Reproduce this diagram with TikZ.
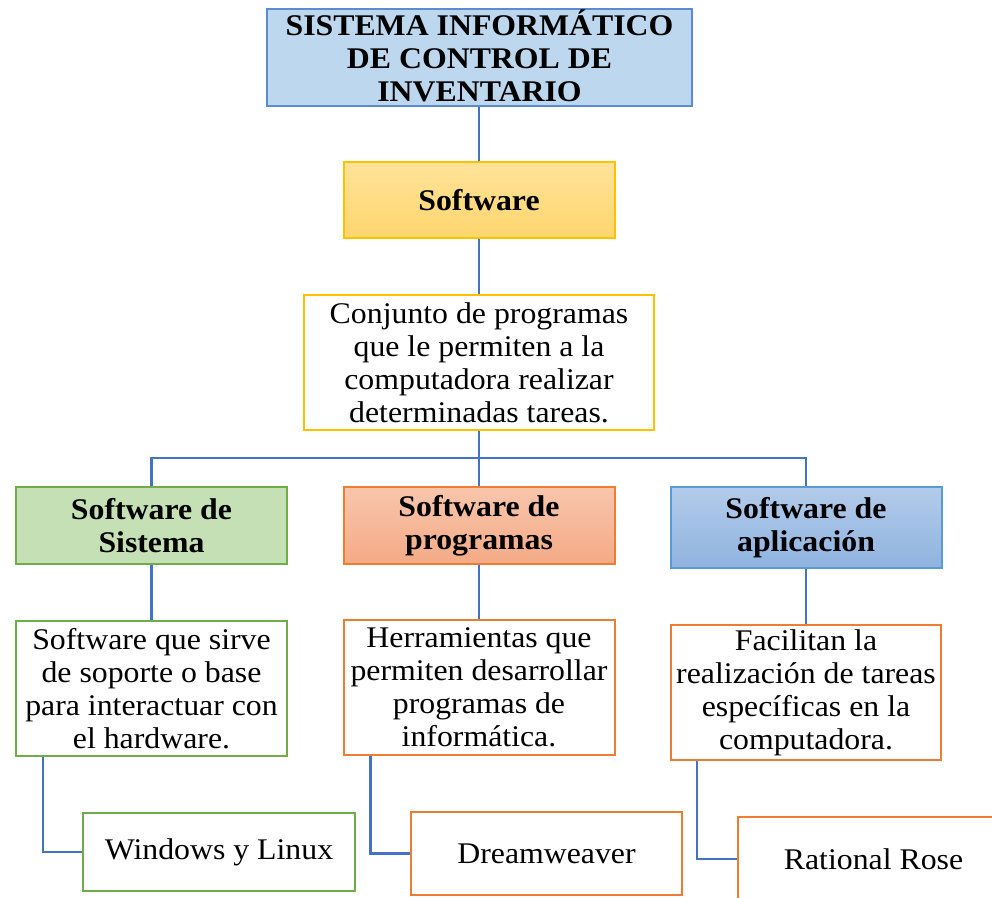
\documentclass[tikz,border=0pt]{standalone}
\usepackage{fontspec}
\setmainfont{Liberation Serif}[FakeStretch=1.06]
\definecolor{linkblue}{HTML}{4472C4}
\definecolor{titlefill}{HTML}{BDD7EE}
\definecolor{titleline}{HTML}{5B8BD0}
\definecolor{goldline}{HTML}{FFC000}
\definecolor{goldtop}{HTML}{FFE39A}
\definecolor{goldbot}{HTML}{FFD66E}
\definecolor{greenfill}{HTML}{C5E0B4}
\definecolor{greenline}{HTML}{70AD47}
\definecolor{orangeline}{HTML}{ED7D31}
\definecolor{orangetop}{HTML}{F8C6AC}
\definecolor{orangebot}{HTML}{F4AA86}
\definecolor{bluetop}{HTML}{B3CBEA}
\definecolor{bluebot}{HTML}{8FB3E0}
\definecolor{blueline}{HTML}{5B9BD5}
\tikzset{
  x=1pt, y=-1pt,
  box/.style={draw, line width=2pt, inner sep=0pt, align=center,
    font=\fontsize{30}{33}\selectfont},
  head/.style={box, font=\fontsize{30}{33}\selectfont\bfseries},
  link/.style={draw=linkblue, line width=2.5pt},
}
\begin{document}
\begin{tikzpicture}
\useasboundingbox (0,0) rectangle (992,897);
\clip (0,0) rectangle (992,897);

% top of the hierarchy: the frame, and its three lines set a little high
\node[head, draw=titleline, fill=titlefill, minimum width=425pt, minimum height=97pt]
  (title) at (479.5,57.5) {};
\node[head, draw=none] (titletext) at (479.5,55.5) {SISTEMA INFORMÁTICO\\DE CONTROL DE\\INVENTARIO};
\node[head, draw=goldline, top color=goldtop, bottom color=goldbot,
  minimum width=271pt, minimum height=76pt] (soft) at (479,200) {Software};
\node[box, draw=goldline, fill=white, minimum width=350pt, minimum height=135pt]
  (def) at (479,362.5) {Conjunto de programas\\que le permiten a la\\computadora realizar\\determinadas tareas.};

% the three kinds of software
\node[head, draw=greenline, fill=greenfill, minimum width=271pt, minimum height=77pt]
  (sis) at (151.5,525.5) {Software de\\Sistema};
\node[head, draw=orangeline, top color=orangetop, bottom color=orangebot,
  minimum width=271pt, minimum height=77pt] (prog) at (479,525.5) {Software de\\programas};
\node[head, draw=blueline, top color=bluetop, bottom color=bluebot,
  minimum width=271pt, minimum height=81pt] (app) at (806,527.5) {Software de\\aplicación};

% descriptions
\node[box, draw=greenline, fill=white, minimum width=271pt, minimum height=135pt]
  (dsis) at (151.5,688.5) {Software que sirve\\de soporte o base\\para interactuar con\\el hardware.};
\node[box, draw=orangeline, fill=white, minimum width=271pt, minimum height=135pt]
  (dprog) at (479,687.5) {Herramientas que\\permiten desarrollar\\programas de\\informática.};
\node[box, draw=orangeline, fill=white, minimum width=270pt, minimum height=135pt]
  (dapp) at (806,692.5) {Facilitan la\\realización de tareas\\específicas en la\\computadora.};

% examples
\node[box, draw=greenline, fill=white, minimum width=272pt, minimum height=78pt]
  (win) at (219,852) {Windows y Linux};
\node[box, draw=orangeline, fill=white, minimum width=271pt, minimum height=83pt]
  (dw) at (546.5,853.5) {Dreamweaver};
\node[box, draw=orangeline, fill=white, minimum width=271pt, minimum height=84pt]
  (rr) at (873.5,859) {Rational Rose};

% connectors
\coordinate (bus) at (479,458);
\draw[link] (title.south -| soft.north) -- (soft.north);
\draw[link] (soft.south) -- (def.north);
\draw[link] (def.south) -- (prog.north);
\draw[link] (sis.north) |- (bus) -| (app.north);
\draw[link] (sis.south) -- (dsis.north);
\draw[link] (prog.south) -- (dprog.north);
\draw[link] (app.south) -- (dapp.north);
\draw[link] ([xshift=28pt]dsis.south west) |- (win.west);
\draw[link] ([xshift=28pt]dprog.south west) |- (dw.west);
\draw[link] ([xshift=27pt]dapp.south west) |- (rr.west);
\end{tikzpicture}
\end{document}
